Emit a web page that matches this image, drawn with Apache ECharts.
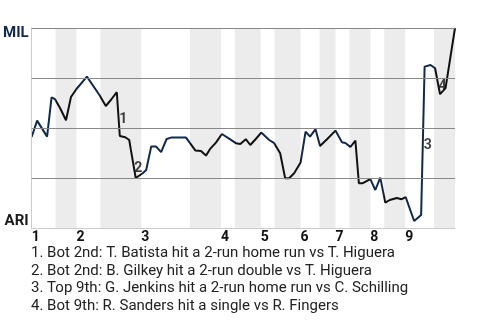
<!DOCTYPE html>
<html>
<head>
<meta charset="utf-8">
<script src="https://cdn.jsdelivr.net/npm/echarts@6/dist/echarts.min.js"></script>
<style>html,body{margin:0;padding:0;background:#fff}#c{width:480px;height:320px}</style>
</head>
<body>
<div id="c"></div>
<script>
// Game progress (play position) and MIL win probability (%)
const progress = [0,1.1,3.1,4.0,4.7,5.7,6.9,7.9,9.0,11.1,13.6,14.9,15.9,17.1,17.7,18.8,19.6,19.9,20.9,22.3,23.0,24.0,25.0,26.0,27.1,28.0,31.0,31.8,32.9,34.0,35.0,35.8,37.0,38.2,39.8,41.0,41.9,43.0,43.9,45.0,46.1,47.7,48.7,49.9,50.9,51.7,52.7,54.0,55.0,55.9,57.0,57.9,59.3,61.0,62.3,63.0,64.0,65.0,65.7,66.5,68.0,69.0,70.0,71.0,71.9,73.3,74.3,75.1,76.8,77.2,78.2,78.9,80.1,81.0,82.0,83.1,85.0];
const milWinPct = [45.5,53.7,45.7,65.3,64.4,60,53.9,65.5,69.5,75.7,66.5,61,64,67.9,46,45.4,44,39.4,25,27.4,29,40.7,40.7,37.9,44.5,45.2,45.2,42.4,38.7,38.5,36.2,39.4,42.7,47,44.4,42.4,42,44.4,41.5,44.5,47.7,44,42.4,37.4,24.9,24.9,27.4,32.7,48.2,45.7,49.4,41,44.4,48.7,42.9,42.5,40.5,43.7,22.4,22.4,24.4,19,25.2,12.7,14,15,14.4,15.4,3.5,3.2,6.5,80.7,81.5,79.9,66.9,69.9,100];

const topStarts = [0,9,22,38,46,54,61,68,75];
const bottomStarts = [4.8,13.8,31.8,40.8,48.8,57.8,63.8,70.8,80.8];
const gameEnd = 85;
const inningLabels = ['1','2','3','4','5','6','7','8','9'];
const gridLevels = [25,50,75,100];
const teamTop = 'MIL';
const teamBottom = 'ARI';

const eventPointIdx = [14,18,71,74];
const eventMarks = ['1','2','3','4'];
const notes = [
  '1. Bot 2nd: T. Batista hit a 2-run home run vs T. Higuera',
  '2. Bot 2nd: B. Gilkey hit a 2-run double vs T. Higuera',
  '3. Top 9th: G. Jenkins hit a 2-run home run vs C. Schilling',
  '4. Bot 9th: R. Sanders hit a single vs R. Fingers'
];

const NAVY = '#13294b';
const BLACK = '#111111';
const FONT = 'Roboto';

const lineData = progress.map((x, i) => [x, milWinPct[i]]);

const pieces = [];
topStarts.forEach((s, i) => {
  pieces.push({ gte: s, lt: bottomStarts[i], color: NAVY });
  const end = i + 1 < topStarts.length ? topStarts[i + 1] : gameEnd + 1;
  pieces.push({ gte: bottomStarts[i], lt: end, color: BLACK });
});

const bands = bottomStarts.map((s, i) => {
  const end = i + 1 < topStarts.length ? topStarts[i + 1] : gameEnd;
  return [{ xAxis: s }, { xAxis: end }];
});

const eventData = eventPointIdx.map((i, k) => ({
  value: [(progress[i - 1] + progress[i]) / 2, (milWinPct[i - 1] + milWinPct[i]) / 2],
  mark: eventMarks[k]
}));

const chart = echarts.init(document.getElementById('c'), null, { renderer: 'canvas' });
chart.setOption({
  animation: false,
  textStyle: { fontFamily: FONT },
  grid: { left: 30, right: 25, top: 28, height: 200 },
  xAxis: {
    type: 'value', min: 0, max: gameEnd,
    axisLine: { show: true, lineStyle: { color: '#cccccc', width: 1 } },
    axisTick: { show: false },
    splitLine: { show: false },
    axisLabel: {
      customValues: topStarts,
      formatter: v => inningLabels[topStarts.indexOf(v)],
      align: 'left', margin: 2,
      fontFamily: FONT, fontWeight: 'bold', fontSize: 14, color: '#111'
    }
  },
  yAxis: {
    type: 'value', min: 0, max: 100,
    axisLine: { show: true, lineStyle: { color: '#cccccc', width: 1 } },
    axisTick: { show: false },
    splitLine: { show: false },
    axisLabel: {
      customValues: [0, 100],
      formatter: v => v === 100 ? '{t|' + teamTop + '}' : '{b|' + teamBottom + '}',
      margin: 3,
      rich: {
        t: { fontFamily: FONT, fontWeight: 'bold', fontSize: 15, color: NAVY, padding: [11, 0, 0, 0] },
        b: { fontFamily: FONT, fontWeight: 'bold', fontSize: 15, color: '#1a1a1a', padding: [0, 0, 14, 0] }
      }
    }
  },
  visualMap: {
    show: false, type: 'piecewise', dimension: 0, seriesIndex: 2, pieces: pieces
  },
  series: [
    {
      type: 'line', data: [], z: 1, silent: true,
      markArea: { silent: true, itemStyle: { color: '#ececec' }, data: bands }
    },
    {
      type: 'line', data: [], z: 2, silent: true,
      markLine: {
        silent: true, symbol: 'none', label: { show: false },
        lineStyle: { color: '#888888', width: 1, type: 'solid' },
        data: gridLevels.map(v => ({ yAxis: v }))
      }
    },
    {
      type: 'line', data: lineData, z: 3, showSymbol: false, symbol: 'none',
      lineStyle: { width: 2 }
    },
    {
      type: 'scatter', z: 4, symbolSize: 0, silent: true,
      data: eventData,
      label: {
        show: true, position: 'inside', offset: [5, 5],
        formatter: p => p.data.mark,
        fontFamily: FONT, fontWeight: 'bold', fontSize: 14, color: '#111'
      }
    }
  ],
  graphic: notes.map((t, i) => ({
    type: 'text', x: 31, y: 253.3 + i * 17.7,
    style: { text: t, fontFamily: FONT, fontSize: 15, fill: '#222', verticalAlign: 'middle' }
  }))
});
</script>
</body>
</html>
